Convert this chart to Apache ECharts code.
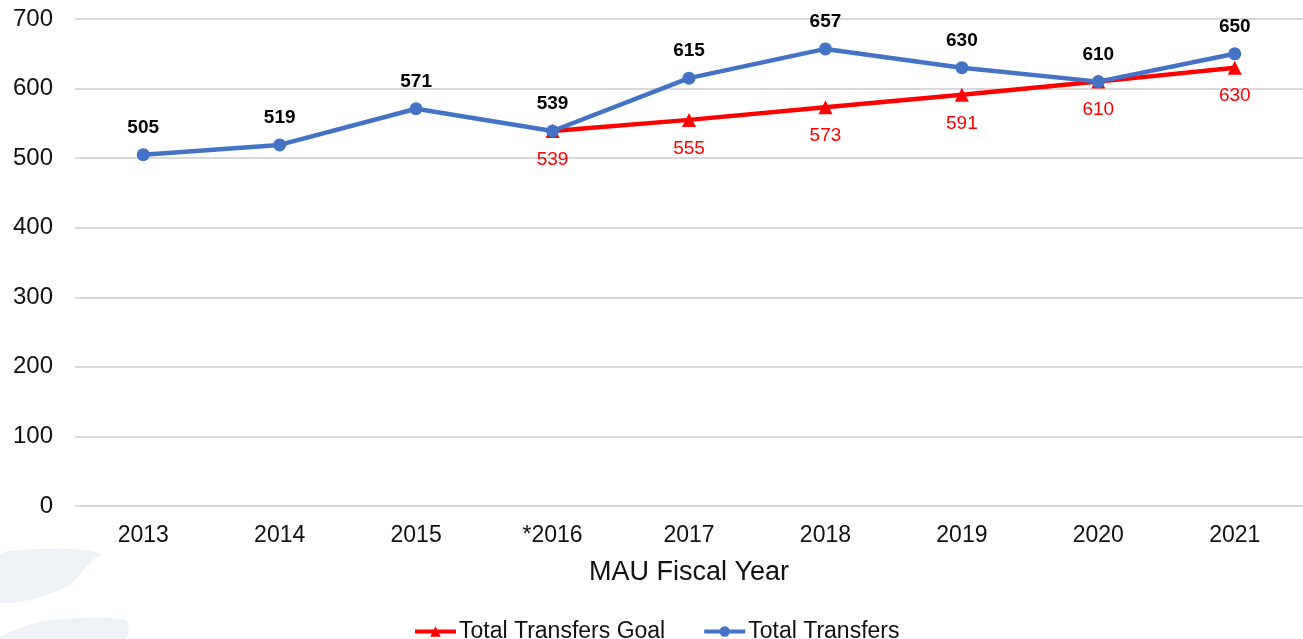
<!DOCTYPE html>
<html>
<head>
<meta charset="utf-8">
<script src="https://cdn.jsdelivr.net/npm/echarts@6/dist/echarts.min.js"></script>
<style>
html,body{margin:0;padding:0;background:#fff;}
#main{width:1303px;height:639px;}
</style>
</head>
<body>
<div id="main"></div>
<script>
const categories = ['2013','2014','2015','*2016','2017','2018','2019','2020','2021'];
const totalTransfers = [505,519,571,539,615,657,630,610,650];
const transfersGoal = [null,null,null,539,555,573,591,610,630];
const yTicks = {min:0, max:700, interval:100};

const chart = echarts.init(document.getElementById('main'));
const font = '"Liberation Sans", Arial, sans-serif';
chart.setOption({
  backgroundColor:'#fff',
  animation:false,
  textStyle:{fontFamily:font},
  graphic:[
    {type:'polygon', z:-10, shape:{smooth:0.4, points:[[-10,560],[40,549],[100,553],[92,561],[60,590],[-10,600]]}, style:{fill:'#eef2f7'}},
    {type:'polygon', z:-10, shape:{smooth:0.3, points:[[0,639],[40,622],[125,620],[125,639]]}, style:{fill:'#eef2f7'}}
  ],
  grid:{left:75, top:19, width:1238, bottom:133, containLabel:false},
  legend:{
    top:615, left:408,
    itemWidth:41, itemHeight:13, itemGap:37,
    lineStyle:{width:4},
    textStyle:{fontSize:23, color:'#111', fontFamily:font, padding:[0,0,0,-2]},
    data:['Total Transfers Goal','Total Transfers']
  },
  xAxis:{
    type:'category', data:categories, boundaryGap:true,
    axisLine:{show:false}, axisTick:{show:false},
    axisLabel:{fontSize:23, color:'#111', margin:18},
    name:'MAU Fiscal Year', nameLocation:'middle', nameGap:53,
    nameTextStyle:{fontSize:27, color:'#111'}
  },
  yAxis:{
    type:'value', min:yTicks.min, max:yTicks.max, interval:yTicks.interval,
    axisLine:{show:false}, axisTick:{show:false},
    axisLabel:{fontSize:24, color:'#111', margin:22, padding:[3,0,0,0]},
    splitLine:{lineStyle:{color:'#d9d9d9', width:2}}
  },
  series:[
    {
      name:'Total Transfers Goal', type:'line', data:transfersGoal,
      symbol:'triangle', symbolSize:14, z:2,
      lineStyle:{color:'#ff0000', width:4.5},
      itemStyle:{color:'#ff0000'},
      label:{show:true, position:'bottom', distance:12, color:'#ff0000', fontSize:19}
    },
    {
      name:'Total Transfers', type:'line', data:totalTransfers,
      symbol:'circle', symbolSize:13, z:3,
      lineStyle:{color:'#4472c4', width:4.5},
      itemStyle:{color:'#4472c4'},
      label:{show:true, position:'top', distance:11, color:'#000', fontSize:19, fontWeight:'bold'}
    }
  ]
});
</script>
</body>
</html>
